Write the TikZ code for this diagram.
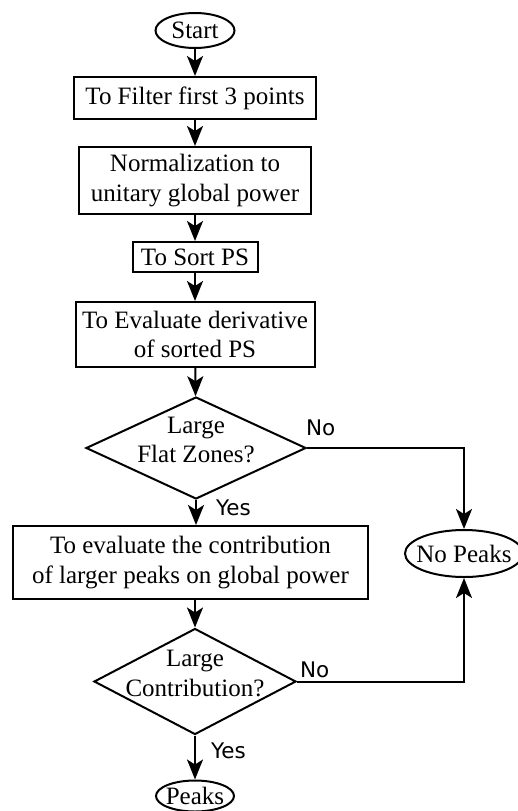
\documentclass[tikz,border=0pt]{standalone}
\usepackage{fontspec}
\setmainfont{Liberation Serif}
\newfontfamily\yesnofont{DejaVu Sans}
\usetikzlibrary{shapes.geometric}
\usetikzlibrary{arrows.meta}

\begin{document}
\begin{tikzpicture}[x=1pt,y=1pt,
  line width=2pt,
  every node/.style={font=\fontsize{25pt}{29.5pt}\selectfont},
  process/.style={draw,rectangle,inner sep=0pt,align=center},
  term/.style={draw,ellipse,inner xsep=-6pt,inner ysep=0pt},
  decision/.style={draw,diamond,inner sep=-50pt,text height=29.5pt,text depth=0pt},
  yesno/.style={inner sep=0pt,anchor=base west,font=\yesnofont\fontsize{21.5pt}{24pt}\selectfont},
  arr/.style={-{Stealth[length=20pt,width=16pt,inset=5pt]}}]
\useasboundingbox (0,0) rectangle (518,-811);
% main column
\node[term,minimum width=79pt,minimum height=35pt] (start) at (195,-30.5) {Start};
\node[process,minimum width=242pt,minimum height=42pt] (filter) at (195,-98) {To Filter first 3 points};
\node[process,minimum width=232pt,minimum height=67pt] (norm) at (195,-180.5) {Normalization to\\unitary global power};
\node[process,minimum width=125pt,minimum height=30pt] (sort) at (195,-257) {To Sort PS};
\node[process,minimum width=239pt,minimum height=65pt] (deriv) at (195,-334.5) {To Evaluate derivative\\of sorted PS};
\node[decision,minimum width=220pt,minimum height=102pt] (flat) at (196,-448)
  {\begin{tabular}[b]{@{}c@{}}Large\\Flat Zones?\end{tabular}};
\node[process,minimum width=355pt,minimum height=73pt] (contrib) at (190.5,-562.5) {To evaluate the contribution\\of larger peaks on global power};
\node[decision,minimum width=202pt,minimum height=106pt] (bigc) at (195,-681.5)
  {\begin{tabular}[b]{@{}c@{}}Large\\Contribution?\end{tabular}};
\node[term,minimum width=78pt,minimum height=31pt] (peaks) at (195,-796) {Peaks};
% exit on the right
\node[term,minimum width=118pt,minimum height=47pt] (nopeaks) at (464,-553.5) {No Peaks};

\draw[arr] (start) -- (filter);
\draw[arr] (filter) -- (norm);
\draw[arr] (norm) -- (sort);
\draw[arr] (sort) -- (deriv);
\draw[arr] (deriv) -- (flat);
\draw[arr] (flat.south) -- (flat.south |- contrib.north);
\draw[arr] (bigc.north |- contrib.south) -- (bigc.north);
\draw[arr] (bigc) -- (peaks);
\draw[arr] (flat.east) -| (nopeaks.north);
\draw[arr] (bigc.east) -| (nopeaks.south);

\node[yesno] (no1) at (305,-435) {No};
\node[yesno] (yes1) at (215,-515) {Yes};
\node[yesno] (no2) at (299,-677) {No};
\node[yesno] (yes2) at (210,-758) {Yes};
\end{tikzpicture}
\end{document}
